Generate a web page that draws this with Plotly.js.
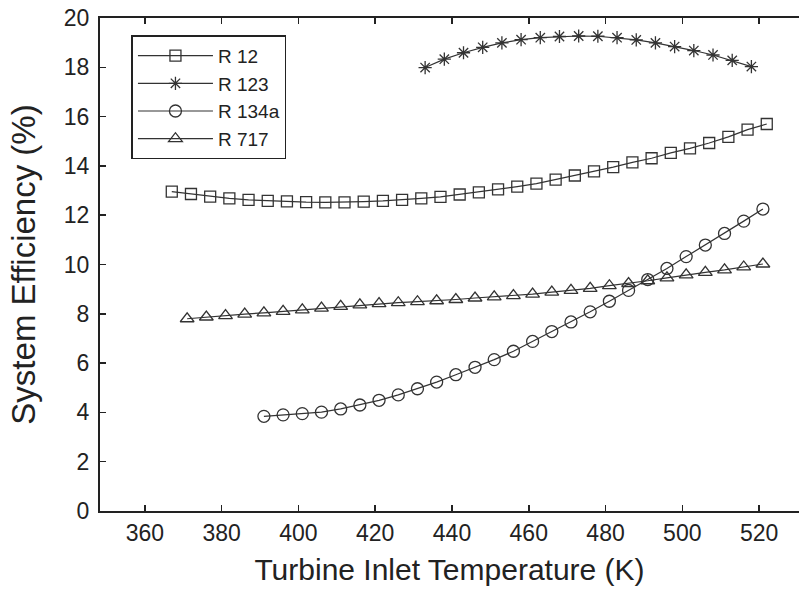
<!DOCTYPE html>
<html>
<head>
<meta charset="utf-8">
<script src="https://cdn.plot.ly/plotly-3.0.1.min.js"></script>
<style>
  html, body { margin: 0; padding: 0; background: #fff; }
  #chart { width: 799px; height: 589px; }
</style>
</head>
<body>
<div id="chart"></div>
<script>
// ---- data ----
const seriesNames = ["R 12", "R 123", "R 134a", "R 717"];

const r12_T = [367, 372, 377, 382, 387, 392, 397, 402, 407, 412, 417, 422, 427, 432, 437, 442,
               447, 452, 457, 462, 467, 472, 477, 482, 487, 492, 497, 502, 507, 512, 517, 522];
const r12_eff = [12.96, 12.86, 12.75, 12.68, 12.62, 12.58, 12.56, 12.53, 12.52, 12.52, 12.55, 12.58,
                 12.62, 12.68, 12.74, 12.84, 12.93, 13.05, 13.16, 13.28, 13.44, 13.61, 13.78, 13.95,
                 14.14, 14.31, 14.53, 14.71, 14.93, 15.18, 15.47, 15.70];

const r123_T = [433, 438, 443, 448, 453, 458, 463, 468, 473, 478, 483, 488, 493, 498, 503, 508, 513, 518];
const r123_eff = [17.99, 18.33, 18.59, 18.81, 18.99, 19.12, 19.20, 19.25, 19.27, 19.26, 19.20, 19.11,
                  18.99, 18.84, 18.68, 18.50, 18.28, 18.03];

const r134a_T = [391, 396, 401, 406, 411, 416, 421, 426, 431, 436, 441, 446, 451, 456,
                 461, 466, 471, 476, 481, 486, 491, 496, 501, 506, 511, 516, 521];
const r134a_eff = [3.84, 3.90, 3.95, 4.01, 4.14, 4.30, 4.49, 4.71, 4.96, 5.23, 5.53, 5.83, 6.14, 6.48,
                   6.88, 7.28, 7.67, 8.08, 8.51, 8.95, 9.39, 9.84, 10.32, 10.79, 11.26, 11.76, 12.25];

const r717_T = [371, 376, 381, 386, 391, 396, 401, 406, 411, 416, 421, 426, 431, 436, 441, 446,
                451, 456, 461, 466, 471, 476, 481, 486, 491, 496, 501, 506, 511, 516, 521];
const r717_eff = [7.80, 7.87, 7.93, 7.99, 8.04, 8.10, 8.16, 8.23, 8.30, 8.36, 8.41, 8.45, 8.49, 8.53,
                  8.58, 8.64, 8.69, 8.74, 8.80, 8.88, 8.95, 9.03, 9.14, 9.23, 9.34, 9.46, 9.58, 9.68,
                  9.78, 9.90, 10.02];

const xTicks = [360, 380, 400, 420, 440, 460, 480, 500, 520];
const yTicks = [0, 2, 4, 6, 8, 10, 12, 14, 16, 18, 20];

// ---- styling ----
const ink = "#333333";
const FONT = "Liberation Sans, Arial, Helvetica, sans-serif";

function series(name, x, y, symbol, size) {
  return {
    type: "scatter", mode: "lines+markers", name: name, x: x, y: y,
    line: { color: ink, width: 1.2 },
    marker: { symbol: symbol, size: size, color: ink,
              line: { width: 1.3 } }
  };
}

const data = [
  series(seriesNames[0], r12_T, r12_eff, "square-open", 11),
  series(seriesNames[1], r123_T, r123_eff, "asterisk-open", 11),
  series(seriesNames[2], r134a_T, r134a_eff, "circle-open", 12),
  series(seriesNames[3], r717_T, r717_eff, "triangle-up-open", 12)
];

const layout = {
  width: 799, height: 589,
  margin: { l: 100, r: 0, t: 18, b: 78, pad: 0 },
  paper_bgcolor: "#ffffff", plot_bgcolor: "#ffffff",
  font: { family: FONT, color: "#222222", size: 23 },
  showlegend: true,
  legend: {
    x: 0.045, y: 0.965, xanchor: "left", yanchor: "top",
    bgcolor: "#ffffff", bordercolor: "#222222", borderwidth: 1.5,
    font: { family: FONT, size: 19, color: "#222222" },
    itemwidth: 75, tracegroupgap: 0
  },
  xaxis: {
    range: [348.3, 530.4], tickvals: xTicks, ticktext: xTicks.map(String),
    ticks: "inside", ticklen: 6, tickwidth: 1.5, tickcolor: "#222222",
    showline: true, linecolor: "#222222", linewidth: 2, mirror: "ticks",
    showgrid: false, zeroline: false,
    tickfont: { family: FONT, size: 23, color: "#222222" },
    title: { text: "Turbine Inlet Temperature (K)", standoff: 14,
             font: { family: FONT, size: 30, color: "#222222" } }
  },
  yaxis: {
    range: [0, 20], tickvals: yTicks, ticktext: yTicks.map(String),
    ticks: "inside", ticklen: 6, tickwidth: 1.5, tickcolor: "#222222",
    ticklabelstandoff: 4,
    showline: true, linecolor: "#222222", linewidth: 2, mirror: false,
    showgrid: false, zeroline: false,
    tickfont: { family: FONT, size: 23, color: "#222222" },
    title: { text: "System Efficiency (%)", standoff: 18,
             font: { family: FONT, size: 33, color: "#222222" } }
  }
};

Plotly.newPlot("chart", data, layout, { staticPlot: true, displayModeBar: false });
</script>
</body>
</html>
